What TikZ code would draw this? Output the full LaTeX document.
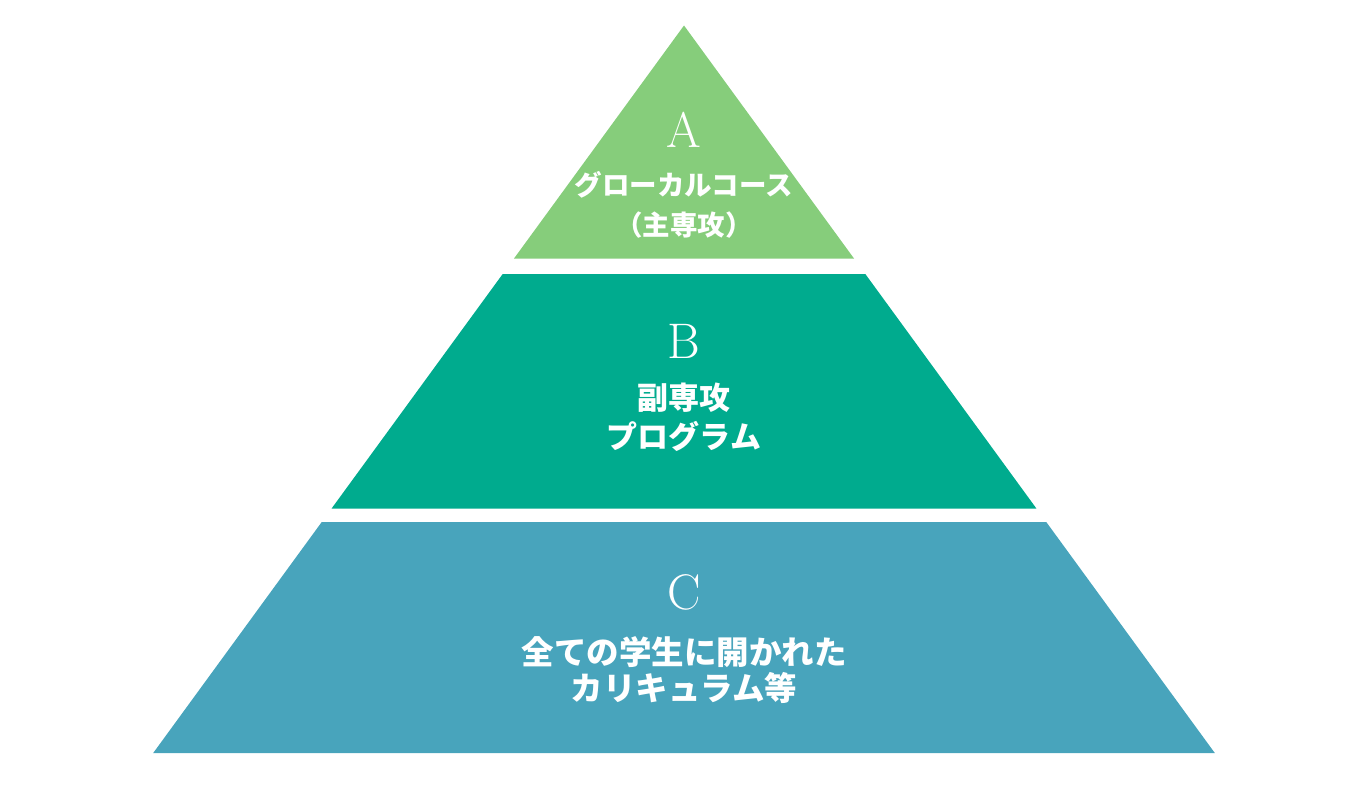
\documentclass[tikz,border=0pt]{standalone}
\usepackage{fontspec}
\newfontfamily\jpfont{Noto Sans CJK JP}
\usetikzlibrary{positioning}
\definecolor{cgreen}{HTML}{86CD7B}
\definecolor{cteal}{HTML}{00AB8E}
\definecolor{cblue}{HTML}{48A4BC}
\tikzset{
  tier/.style={fill=#1, draw=none},
  letter/.style={text=white, inner sep=0pt, font=\fontsize{50}{50}\selectfont},
  tiertext/.style={text=white, inner sep=0pt, align=center},
}

\begin{document}
\begin{tikzpicture}[x=1pt, y=-1pt]
  \useasboundingbox (0,0) rectangle (1362,800);
  % name, top y, bottom y, colour, letter y, text y, font size, line skip, text
  \foreach \n/\ya/\yb/\col/\ly/\ty/\fs/\bs/\txt in {
      A/25.5/258.7/cgreen/130/205/27.5/40/{グローカルコース\\（主専攻）},
      B/274/508.5/cteal/341/417.5/31/39/{副専攻\\プログラム},
      C/522/753/cblue/592/670/32.5/36/{全ての学生に開かれた\\カリキュラム等}} {
    \fill[tier=\col] (684-0.7296*\ya+18.6, \ya) -- (684+0.7296*\ya-18.6, \ya)
      -- (684+0.7296*\yb-18.6, \yb) -- (684-0.7296*\yb+18.6, \yb) -- cycle;
    \node[letter] (L\n) at (684, \ly) {\n};
    \node[tiertext, font=\jpfont\bfseries\fontsize{\fs}{\bs}\selectfont] (T\n) at (684, \ty) {\txt};
  }
\end{tikzpicture}
\end{document}
